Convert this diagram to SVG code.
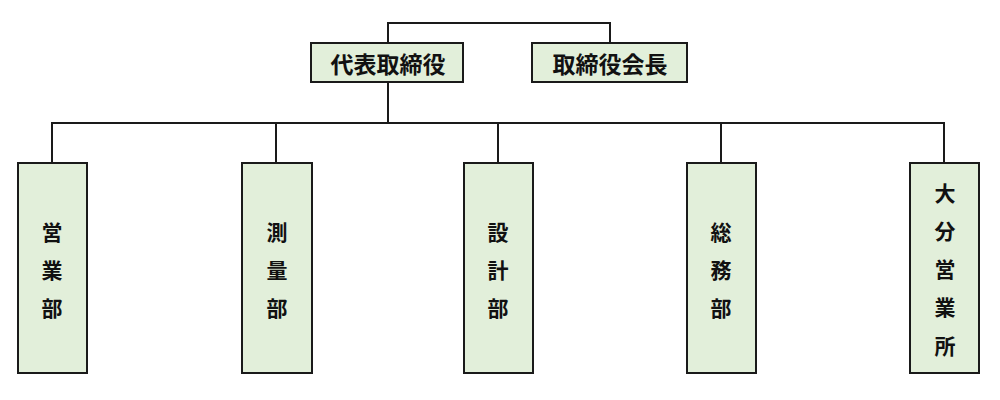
<svg xmlns="http://www.w3.org/2000/svg" width="1000" height="400" viewBox="0 0 1000 400">
<style>
.box{fill:#e2efda;stroke:#1a1a1a;stroke-width:2}
.ln{fill:none;stroke:#1a1a1a;stroke-width:2}
text{font-family:"Noto Sans CJK JP","Noto Sans",sans-serif;fill:#111;text-anchor:middle;dominant-baseline:central}
.t{font-size:23px;font-weight:700}
.v{font-size:21px;font-weight:700}
</style>
<rect width="1000" height="400" fill="#fff"/>
<g id="connectors">
<path class="ln" d="M388 43 V23 H610 V43"/>
<path class="ln" d="M388 82 V123"/>
<path class="ln" d="M52 163 V123 H944 V163"/>
<path class="ln" d="M276 123 V163"/>
<path class="ln" d="M498 123 V163"/>
<path class="ln" d="M721 123 V163"/>
</g>
<g id="n-ceo"><rect class="box" x="311" y="43" width="152" height="39"/><text class="t" x="388" y="63">代表取締役</text></g>
<g id="n-chair"><rect class="box" x="532" y="43" width="155" height="39"/><text class="t" x="610" y="63">取締役会長</text></g>
<g id="n-sales"><rect class="box" x="18" y="163" width="69" height="210"/><text class="v" x="52"><tspan x="52" y="231">営</tspan><tspan x="52" y="269">業</tspan><tspan x="52" y="307">部</tspan></text></g>
<g id="n-survey"><rect class="box" x="242" y="163" width="70" height="210"/><text class="v" x="277"><tspan x="277" y="231">測</tspan><tspan x="277" y="269">量</tspan><tspan x="277" y="307">部</tspan></text></g>
<g id="n-design"><rect class="box" x="464" y="163" width="69" height="210"/><text class="v" x="498"><tspan x="498" y="231">設</tspan><tspan x="498" y="269">計</tspan><tspan x="498" y="307">部</tspan></text></g>
<g id="n-general"><rect class="box" x="687" y="163" width="69" height="210"/><text class="v" x="721"><tspan x="721" y="231">総</tspan><tspan x="721" y="269">務</tspan><tspan x="721" y="307">部</tspan></text></g>
<g id="n-oita"><rect class="box" x="910" y="163" width="69" height="210"/><text class="v" x="945"><tspan x="945" y="192">大</tspan><tspan x="945" y="230">分</tspan><tspan x="945" y="268">営</tspan><tspan x="945" y="306">業</tspan><tspan x="945" y="345">所</tspan></text></g>
</svg>
